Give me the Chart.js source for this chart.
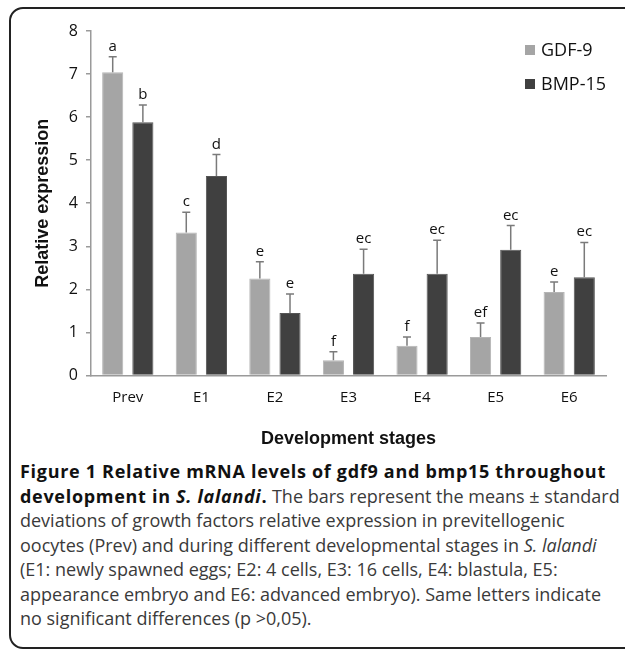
<!DOCTYPE html>
<html>
<head>
<meta charset="utf-8">
<script src="https://cdn.jsdelivr.net/npm/chart.js@4.4.0/dist/chart.umd.min.js"></script>
<style>
  body { margin: 0; background: #fff; width: 625px; height: 649px; overflow: hidden; position: relative; }
  #frame { position: absolute; left: 9px; top: 7px; width: 700px; height: 638px; border: 2px solid #222; border-radius: 14px; }
  #wrap { position: absolute; left: 0; top: 0; width: 625px; height: 456px; }
  #caption { position: absolute; left: 20px; top: 459px; width: 605px; font-family: "Open Sans", sans-serif; font-size: 18px; line-height: 24.5px; color: #3a3a3a; white-space: nowrap; }
  #caption b { color: #111; font-weight: 700; letter-spacing: 0.7px; }
</style>
</head>
<body>
<div id="frame"></div>
<div id="wrap"><canvas id="chart"></canvas></div>
<div id="caption"><b>Figure 1 Relative mRNA levels of gdf9 and bmp15 throughout</b><br><b>development in <i>S. lalandi</i>.</b> The bars represent the means ± standard<br>deviations of growth factors relative expression in previtellogenic<br>oocytes (Prev) and during different developmental stages in <i>S. lalandi</i><br>(E1: newly spawned eggs; E2: 4 cells, E3: 16 cells, E4: blastula, E5:<br>appearance embryo and E6: advanced embryo). Same letters indicate<br>no significant differences (p &gt;0,05).</div>
<script>
// Data
const stages = ["Prev", "E1", "E2", "E3", "E4", "E5", "E6"];
const gdf9 = [7.04, 3.32, 2.25, 0.35, 0.69, 0.89, 1.94];
const gdf9Sd = [0.36, 0.47, 0.39, 0.20, 0.20, 0.33, 0.23];
const gdf9Letters = ["a", "c", "e", "f", "f", "ef", "e"];
const bmp15 = [5.88, 4.63, 1.45, 2.36, 2.36, 2.92, 2.28];
const bmp15Sd = [0.40, 0.50, 0.44, 0.57, 0.78, 0.56, 0.81];
const bmp15Letters = ["b", "d", "e", "ec", "ec", "ec", "ec"];
const yTicks = [0, 1, 2, 3, 4, 5, 6, 7, 8];

const sdSets = [gdf9Sd, bmp15Sd];
const letterSets = [gdf9Letters, bmp15Letters];

// Error bars (upper only) plus the significance letters
const errorBars = {
  id: "errorBars",
  afterDatasetsDraw(chart) {
    const ctx = chart.ctx;
    const y = chart.scales.y;
    ctx.save();
    chart.data.datasets.forEach((ds, i) => {
      const meta = chart.getDatasetMeta(i);
      meta.data.forEach((bar, j) => {
        const top = y.getPixelForValue(ds.data[j] + sdSets[i][j]);
        const base = y.getPixelForValue(ds.data[j]);
        ctx.strokeStyle = "#7a7a7a";
        ctx.lineWidth = 1.5;
        ctx.beginPath();
        ctx.moveTo(bar.x, base);
        ctx.lineTo(bar.x, top);
        ctx.moveTo(bar.x - 4, top);
        ctx.lineTo(bar.x + 4, top);
        ctx.stroke();
        ctx.fillStyle = "#111";
        ctx.font = "15px 'Open Sans', sans-serif";
        ctx.textAlign = "center";
        ctx.textBaseline = "alphabetic";
        ctx.fillText(letterSets[i][j], bar.x, top - 6);
      });
    });
    ctx.restore();
  }
};

// Legend drawn inside the plot, top right
const innerLegend = {
  id: "innerLegend",
  afterDraw(chart) {
    const ctx = chart.ctx;
    ctx.save();
    chart.data.datasets.forEach((ds, i) => {
      const ly = 50 + i * 34;
      ctx.fillStyle = ds.backgroundColor;
      ctx.fillRect(525, ly - 5, 10, 10);
      ctx.fillStyle = "#111";
      ctx.font = "18px 'Open Sans', sans-serif";
      ctx.textBaseline = "middle";
      ctx.textAlign = "left";
      ctx.fillText(ds.label, 541, ly + 1);
    });
    ctx.restore();
  }
};

new Chart(document.getElementById("chart"), {
  type: "bar",
  data: {
    labels: stages,
    datasets: [
      { label: "GDF-9", data: gdf9, backgroundColor: "#a5a5a5", borderColor: "#b5b5b5", borderWidth: 1 },
      { label: "BMP-15", data: bmp15, backgroundColor: "#404040", borderColor: "#555", borderWidth: 1 }
    ]
  },
  options: {
    responsive: true,
    maintainAspectRatio: false,
    animation: false,
    categoryPercentage: 0.82,
    barPercentage: 0.7,
    layout: { padding: { left: 32, right: 19, top: 31, bottom: 2 } },
    plugins: { legend: { display: false }, tooltip: { enabled: false } },
    scales: {
      x: {
        grid: { display: false },
        border: { color: "#9a9a9a", width: 1.5 },
        ticks: { color: "#111", font: { family: "'Open Sans', sans-serif", size: 15 }, padding: 5 },
        title: { display: true, text: "Development stages", color: "#111", font: { family: "'Liberation Sans', Arial", size: 18, weight: "bold" }, padding: { top: 17 } }
      },
      y: {
        min: 0,
        max: 8,
        afterFit(scale) { scale.width = 59; },
        afterBuildTicks(scale) { scale.ticks = yTicks.map(v => ({ value: v })); },
        grid: { display: true, drawOnChartArea: false, tickLength: 5, color: "#9a9a9a", lineWidth: 1.5 },
        border: { color: "#9a9a9a", width: 1.5 },
        ticks: { color: "#111", font: { family: "'Open Sans', sans-serif", size: 16 }, padding: 8 },
        title: { display: true, text: "Relative expression", color: "#111", font: { family: "'Liberation Sans', Arial", size: 18, weight: "bold" }, padding: 0 }
      }
    }
  },
  plugins: [errorBars, innerLegend]
});
</script>
</body>
</html>
